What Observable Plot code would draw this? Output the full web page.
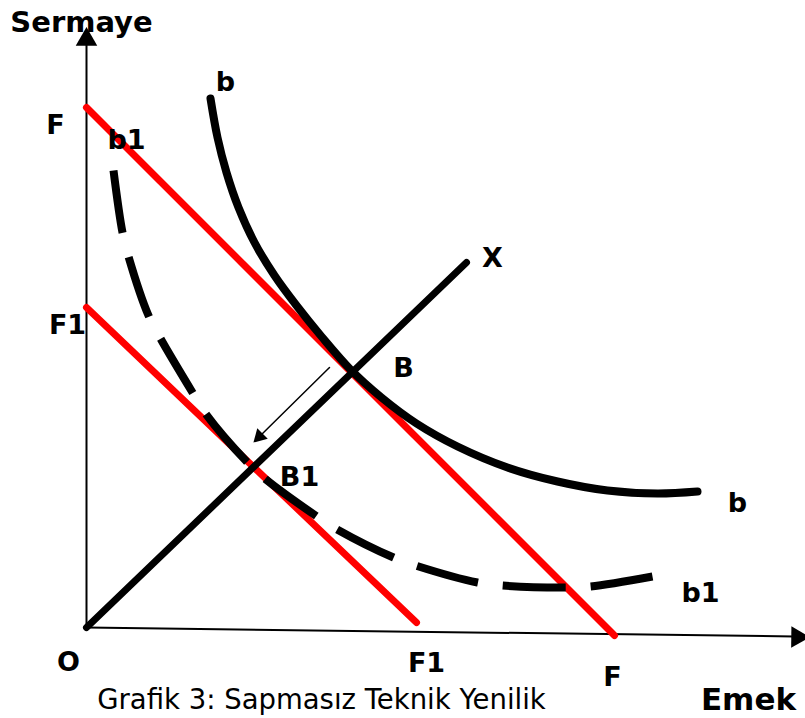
<!DOCTYPE html>
<html>
<head>
<meta charset="utf-8">
<script src="https://cdn.jsdelivr.net/npm/d3@7"></script>
<script src="https://cdn.jsdelivr.net/npm/@observablehq/plot@0.6"></script>
<style>
  html, body { margin: 0; padding: 0; background: #fff; }
  #chart svg { display: block; }
</style>
</head>
<body>
<div id="chart"></div>
<script>
// Diagram coordinates: Emek (labour) on x, Sermaye (capital) on y, origin O at (0,0)
const isoquantB = [[124,529],[131,490],[140,455],[152,420],[168,385],[188,352],[210,322],[235,291],[264,258],[295,230],[330,204],[371,181],[421,160],[471,146],[521,137],[571,134],[611,136]];
const isoquantB1 = [[27,457],[36,395],[42,371],[62,312],[74,289],[106,235],[119,214],[161,165],[177,150],[229,112],[249,99],[307,70],[329,62],[391,45],[416,42],[479,40],[504,41],[566,51]];
const isocostF = [[0,520],[528,-8]];
const isocostF1 = [[0,320],[330,5]];
const expansionX = [[0,0],[380,365]];
const yAxisLine = [[0,0],[0,585]];
const xAxisLine = [[0,0],[708,-9]];
const shiftArrow = [[243,260],[173,191]];
const shiftArrowHead = [[173,191]];

const labels = [
  {text: "b", x: 139, y: 545},
  {text: "F", x: -31, y: 502},
  {text: "b1", x: 40, y: 487},
  {text: "X", x: 406, y: 369},
  {text: "F1", x: -19, y: 302},
  {text: "B", x: 317, y: 259},
  {text: "B1", x: 213, y: 150},
  {text: "b", x: 651, y: 124},
  {text: "b1", x: 614, y: 34},
  {text: "O", x: -18, y: -35},
  {text: "F1", x: 340, y: -36},
  {text: "F", x: 526, y: -50}
];
const axisTitles = [
  {text: "Sermaye", x: -5, y: 605, size: 29},
  {text: "Emek", x: 662, y: -73, size: 31}
];
const caption = [{text: "Grafik 3: Sapmasız Teknik Yenilik", x: 235, y: -73}];

const boldFont = "Tahoma, 'DejaVu Sans', sans-serif";
const pt = d => ({x: d[0], y: d[1]});

const chart = Plot.plot({
  width: 805,
  height: 718,
  margin: 0,
  x: {domain: [-86, 719], axis: null},
  y: {domain: [-91, 627], axis: null},
  style: {fontFamily: boldFont, background: "white"},
  marks: [
    // axes
    Plot.line(yAxisLine.map(pt), {x: "x", y: "y", stroke: "black", strokeWidth: 2}),
    Plot.line(xAxisLine.map(pt), {x: "x", y: "y", stroke: "black", strokeWidth: 2}),
    Plot.dot([{x: 0, y: 588}], {x: "x", y: "y", symbol: "triangle", r: 8, fill: "black", stroke: null}),
    Plot.dot([{x: 711, y: -9.5}], {x: "x", y: "y", symbol: "triangle", r: 8, fill: "black", stroke: null, rotate: 90.7}),
    // isocost lines
    Plot.line(isocostF.map(pt), {x: "x", y: "y", stroke: "#ff0000", strokeWidth: 7}),
    Plot.line(isocostF1.map(pt), {x: "x", y: "y", stroke: "#ff0000", strokeWidth: 7}),
    // expansion path
    Plot.line(expansionX.map(pt), {x: "x", y: "y", stroke: "black", strokeWidth: 7}),
    // isoquants
    Plot.line(isoquantB.map(pt), {x: "x", y: "y", stroke: "black", strokeWidth: 8, curve: "catmull-rom"}),
    Plot.line(isoquantB1.map(pt), {x: "x", y: "y", stroke: "black", strokeWidth: 8, curve: "catmull-rom", strokeDasharray: "63,25", strokeLinecap: "butt"}),
    // shift arrow B -> B1
    Plot.line(shiftArrow.map(pt), {x: "x", y: "y", stroke: "black", strokeWidth: 1.5}),
    Plot.dot(shiftArrowHead.map(pt), {x: "x", y: "y", symbol: "triangle", r: 5.5, fill: "black", stroke: null, rotate: 225}),
    // labels
    Plot.text(labels, {x: "x", y: "y", text: "text", fontSize: 27, fontWeight: "bold", fill: "black"}),
    Plot.text(axisTitles, {x: "x", y: "y", text: "text", fontSize: d => d.size, fontWeight: "bold", fill: "black"}),
    Plot.text(caption, {x: "x", y: "y", text: "text", fontSize: 27.5, fill: "black", fontFamily: "'DejaVu Sans', sans-serif"})
  ]
});
document.getElementById("chart").append(chart);
</script>
</body>
</html>
